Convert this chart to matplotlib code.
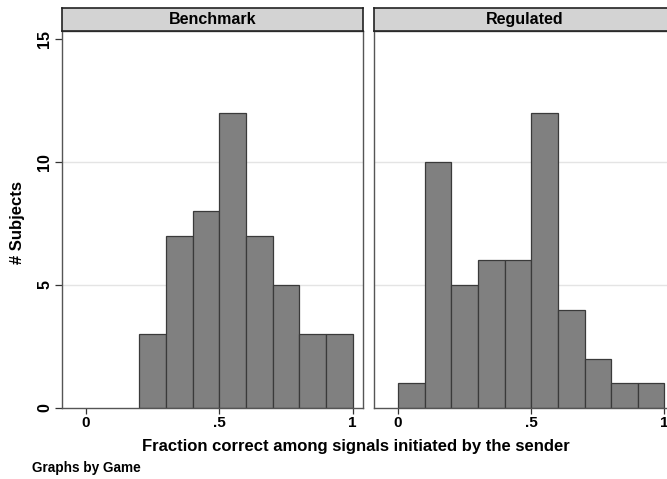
import matplotlib
matplotlib.use("Agg")
import matplotlib.pyplot as plt

plt.rcParams['font.family'] = ['Liberation Sans', 'DejaVu Sans']

# histogram data: bin width 0.1
bin_width = 0.1
bench_left_edges = [0.2, 0.3, 0.4, 0.5, 0.6, 0.7, 0.8, 0.9]
bench_counts = [3, 7, 8, 12, 7, 5, 3, 3]
reg_left_edges = [0.0, 0.1, 0.2, 0.3, 0.4, 0.5, 0.6, 0.7, 0.8, 0.9]
reg_counts = [1, 10, 5, 6, 6, 12, 4, 2, 1, 1]

panel_titles = ["Benchmark", "Regulated"]
x_ticks = [0, 0.5, 1]
x_ticklabels = ["0", ".5", "1"]
y_ticks = [0, 5, 10, 15]
y_ticklabels = ["0", "5", "10", "15"]

W, H = 667, 479
fig = plt.figure(figsize=(W / 100, H / 100), dpi=100)


def px_axes(x0, y0, x1, y1):
    # pixel box (top-left origin) -> figure axes
    return fig.add_axes([x0 / W, 1 - y1 / H, (x1 - x0) / W, (y1 - y0) / H])


panels = [
    (62, bench_left_edges, bench_counts),
    (374, reg_left_edges, reg_counts),
]
pw = 301
x_lo = -24 / 266.5
x_hi = x_lo + pw / 266.5
y_top = 15 + 9 / 24.6

for i, (x0, edges, counts) in enumerate(panels):
    ax = px_axes(x0, 30.5, x0 + pw, 407.7)
    ax.set_xlim(x_lo, x_hi)
    ax.set_ylim(0, y_top)
    for yv in [5, 10]:
        ax.axhline(yv, color="#e4e4e4", lw=1, zorder=0)
    ax.bar(edges, counts, width=bin_width, align="edge",
           color="#808080", edgecolor="#3a3a3a", linewidth=0.9, zorder=2)
    for s in ax.spines.values():
        s.set_color("#555555")
        s.set_linewidth(1.0)
    ax.set_xticks(x_ticks)
    ax.set_xticklabels(x_ticklabels, fontsize=11, fontweight="bold")
    ax.tick_params(axis="x", length=4, width=0.9, color="#333333", pad=2)
    if i == 0:
        ax.set_yticks(y_ticks)
        ax.set_yticklabels(y_ticklabels, fontsize=11.5, fontweight="bold",
                           rotation=90, va="center")
        ax.tick_params(axis="y", length=5, width=0.9, color="#333333", pad=2)
    else:
        ax.set_yticks([])
    # strip header
    hax = px_axes(x0, 8, x0 + pw, 30.5)
    hax.set_xticks([])
    hax.set_yticks([])
    hax.set_facecolor("#d3d3d3")
    for s in hax.spines.values():
        s.set_color("#222222")
        s.set_linewidth(1.2)
    hax.text(0.5, 0.5, panel_titles[i], ha="center", va="center",
             fontsize=11.5, fontweight="bold", transform=hax.transAxes)

fig.text(18 / W, 1 - 222 / H, "# Subjects", rotation=90, ha="center",
         va="center", fontsize=12, fontweight="bold")
fig.text(356 / W, 1 - 447 / H,
         "Fraction correct among signals initiated by the sender",
         ha="center", va="center", fontsize=12, fontweight="bold")
fig.text(32 / W, 1 - 468 / H, "Graphs by Game", ha="left", va="center",
         fontsize=9.8, fontweight="bold")

fig.savefig("out.png", dpi=100)
